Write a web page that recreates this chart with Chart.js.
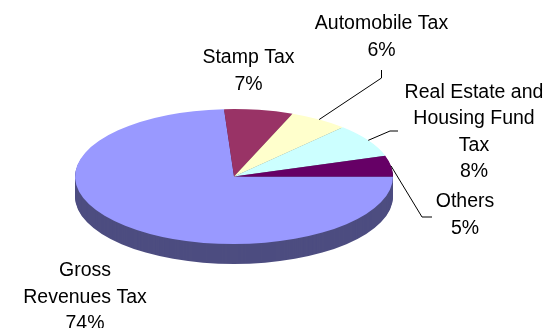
<!DOCTYPE html>
<html>
<head>
<meta charset="utf-8">
<script src="https://cdn.jsdelivr.net/npm/chart.js@4.4.0/dist/chart.umd.min.js"></script>
<style>
	html, body { margin: 0; padding: 0; background: #fff; }
	#contenedor { width: 547px; height: 328px; }
</style>
</head>
<body>
<div id="contenedor"><canvas id="grafico" width="547" height="328"></canvas></div>
<script>
const categorias = ["Gross Revenues Tax", "Stamp Tax", "Automobile Tax", "Real Estate and Housing Fund Tax", "Others"]
const porcentajes = [74, 7, 6, 8, 5]
const coloresCara = ["#9999FF", "#993366", "#FFFFCC", "#CCFFFF", "#660066"]
const coloresLado = ["#4D4D80", "#4D1A33", "#808066", "#668080", "#330033"]

// forma del pastel en 3D
const centroY = 176.5
const semiEjeY = 67.5
const grosor = 20

// etiquetas: centro, primera linea base, ancho para cortar lineas, codos de la guia
const etiquetas = [
	{x: 85, y: 276, ancho: 135, guia: null},
	{x: 248.5, y: 63.3, ancho: 200, guia: null},
	{x: 381.5, y: 29.3, ancho: 200, guia: [[381.5, 78], [381.5, 70]]},
	{x: 474, y: 97.7, ancho: 145, guia: [[390, 131], [398, 131]]},
	{x: 465, y: 207.3, ancho: 200, guia: [[422, 217], [432, 217]]}
]
const interlineado = 26.5
const fuente = '19.5px "Liberation Sans", Arial, sans-serif'

function mitad(arco){
	return (arco.startAngle + arco.endAngle) / 2
}

function cortarTexto(ctx, texto, ancho){
	var lineas = []
	var actual = ""
	texto.split(" ").forEach(palabra => {
		var prueba = actual ? actual + " " + palabra : palabra
		if(actual && ctx.measureText(prueba).width > ancho){
			lineas.push(actual)
			actual = palabra
		}
		else{
			actual = prueba
		}
	})
	lineas.push(actual)
	return lineas
}

const pastel3D = {
	id: "pastel3D",
	beforeDatasetsDraw(chart){
		const ctx = chart.ctx
		const arcos = chart.getDatasetMeta(0).data
		const {x, y, outerRadius} = arcos[0]
		const k = semiEjeY / outerRadius

		ctx.save()
		ctx.translate(x, centroY)
		ctx.scale(1, k)
		ctx.translate(-x, -y)

		// costado: sectores oscuros apilados, los de adelante al final
		const orden = arcos.map((a, i) => i).sort((i, j) => Math.sin(mitad(arcos[i])) - Math.sin(mitad(arcos[j])))
		orden.forEach(i => {
			const a = arcos[i]
			ctx.fillStyle = coloresLado[i]
			for(let d = grosor; d > 0; d--){
				const yy = y + d / k
				ctx.beginPath()
				ctx.moveTo(x, yy)
				ctx.arc(x, yy, outerRadius, a.startAngle, a.endAngle)
				ctx.closePath()
				ctx.fill()
			}
		})
	},
	afterDatasetsDraw(chart){
		chart.ctx.restore()
	},
	afterDraw(chart){
		const ctx = chart.ctx
		const arcos = chart.getDatasetMeta(0).data

		ctx.save()
		ctx.font = fuente
		ctx.fillStyle = "#000"
		ctx.strokeStyle = "#000"
		ctx.lineWidth = 1
		ctx.textAlign = "center"
		ctx.textBaseline = "alphabetic"

		arcos.forEach((a, i) => {
			const e = etiquetas[i]
			if(e.guia){
				const m = mitad(a)
				ctx.beginPath()
				ctx.moveTo(a.x + a.outerRadius * Math.cos(m), centroY + semiEjeY * Math.sin(m))
				e.guia.forEach(p => ctx.lineTo(p[0], p[1]))
				ctx.stroke()
			}

			const lineas = cortarTexto(ctx, categorias[i], e.ancho)
			lineas.push(porcentajes[i] + "%")
			lineas.forEach((linea, n) => {
				ctx.save()
				ctx.translate(e.x, e.y + n * interlineado)
				ctx.scale(1, 1.08)
				ctx.fillText(linea, 0, 0)
				ctx.restore()
			})
		})
		ctx.restore()
	}
}

new Chart(document.getElementById("grafico"), {
	type: "pie",
	data: {
		labels: categorias,
		datasets: [{
			data: porcentajes,
			backgroundColor: coloresCara,
			borderWidth: 0
		}]
	},
	options: {
		responsive: false,
		animation: false,
		rotation: 90,
		layout: {padding: {left: 75, right: 154, top: 5, bottom: 5}},
		plugins: {
			legend: {display: false},
			tooltip: {enabled: false}
		}
	},
	plugins: [pastel3D]
})
</script>
</body>
</html>
